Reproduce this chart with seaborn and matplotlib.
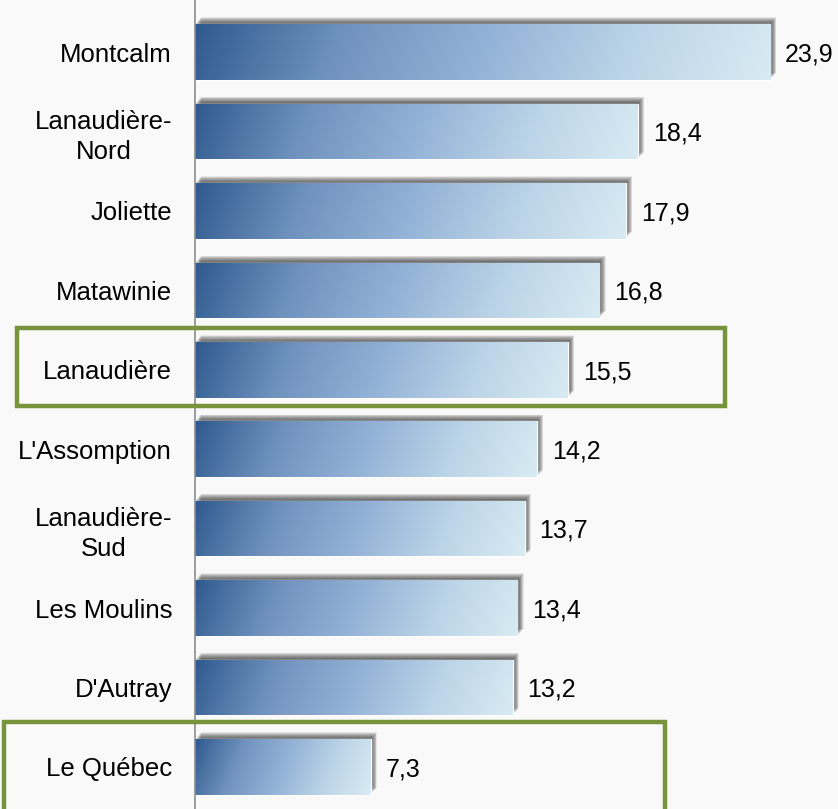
import matplotlib
matplotlib.use("Agg")
from matplotlib import pyplot as plt
from matplotlib.colors import LinearSegmentedColormap
from matplotlib.patches import Rectangle
import matplotlib.patheffects as pe
import seaborn as sns
import numpy as np
import pandas as pd

# données
regions = ["Montcalm", "Lanaudière-\nNord", "Joliette", "Matawinie", "Lanaudière",
           "L'Assomption", "Lanaudière-\nSud", "Les Moulins", "D'Autray", "Le Québec"]
valeurs = [23.9, 18.4, 17.9, 16.8, 15.5, 14.2, 13.7, 13.4, 13.2, 7.3]

W, H = 838, 809
sns.set_theme(style="white")
plt.rcParams['font.family'] = ['Liberation Sans', 'DejaVu Sans']

fig = plt.figure(figsize=(W / 100, H / 100), dpi=100, facecolor="#f9f9f9")
ax = fig.add_axes([195 / W, 0, 1 - 195 / W, 1])
ax.set_facecolor("#f9f9f9")

df = pd.DataFrame({"region": regions, "valeur": valeurs})
sns.barplot(data=df, x="valeur", y="region", orient="h", width=0.7,
            color="#6f94c0", ax=ax)

XMAX = 26.72
ax.set_xlim(0, XMAX)
ax.set_ylim(9.53, -0.655)

# dégradé bleu dans chaque barre (léger angle)
cmap = LinearSegmentedColormap.from_list(
    "bleu", ["#2f5a8f", "#6f92bd", "#93b2d7", "#bcd4e7", "#d8ebf3"])
px_x = (W - 195) / XMAX
px_y = H / (9.53 + 0.655)
# ombre floue approximée par plusieurs couches
ombre = [pe.SimplePatchShadow(offset=(d, d * 1.1), shadow_rgbFace="#333333", alpha=0.085)
         for d in np.linspace(4.5, 0.3, 14)]
for p in ax.patches:
    p.set_path_effects(ombre + [pe.Normal()])
    x0, y0 = p.get_x(), p.get_y()
    w, h = p.get_width(), p.get_height()
    wp, hp = w * px_x, h * px_y
    u = np.linspace(0, 1, 300)[None, :]
    v = np.linspace(0, 1, 60)[:, None]
    k = 0.4
    t = (u * wp + k * v * hp) / (wp + k * hp)
    im = ax.imshow(t, extent=[x0, x0 + w, y0 + h, y0], cmap=cmap, vmin=0, vmax=1,
                   aspect="auto", zorder=p.get_zorder() + 0.1)
    im.set_clip_path(p)
    ax.text(x0 + w + 0.62, y0 + h / 2 + 0.03, f"{w:.1f}".replace(".", ","),
            va="center", ha="left", fontsize=18, color="black")

ax.set_xlim(0, XMAX)
ax.set_ylim(9.53, -0.655)

for s in ["top", "right", "bottom"]:
    ax.spines[s].set_visible(False)
ax.spines["left"].set_color("#8c8c8c")
ax.spines["left"].set_linewidth(1.2)
ax.set_xticks([])
ax.set_xlabel("")
ax.set_ylabel("")
ax.tick_params(axis="y", length=0, pad=16.5, labelsize=18.5)
for t in ax.get_yticklabels():
    t.set_multialignment("center")
    t.set_linespacing(1.3)
    t.set_color("black")

# encadrés verts
vert = "#77933c"
fig.patches.append(Rectangle((17 / W, 1 - 406 / H), (725 - 17) / W, (406 - 328) / H,
                             transform=fig.transFigure, fill=False, ec=vert, lw=3.2))
fig.patches.append(Rectangle((4 / W, 1 - 830 / H), (665 - 4) / W, (830 - 722) / H,
                             transform=fig.transFigure, fill=False, ec=vert, lw=3.2))

fig.savefig("out.png", dpi=100, facecolor=fig.get_facecolor())
